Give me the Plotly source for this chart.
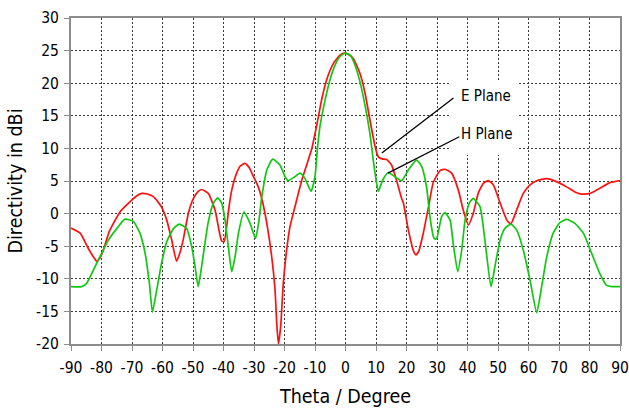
import plotly.graph_objects as go

# E Plane (red)
e_theta = [-90, -87, -84.5, -82.7, -81.6, -80.5, -79.4, -77.5, -76.1, -73.9, -70.7, -68.5, -66.8, -65, -63,
           -61.5, -60.3, -58.6, -57, -55.4, -54.3, -53.2, -51.5, -49.9, -48.5, -47.2, -45, -42.8, -41.5,
           -40.6, -39.8, -39, -38.2, -37.3, -35.7, -34.5, -33, -31.5, -30.2, -28.6, -27.5, -25.8, -24.2,
           -23.1, -22.55, -22.0, -21.25, -20.4, -19.3, -18.2, -16.6, -14.4, -12.7, -11.1, -9.45, -7.8,
           -6.2, -4.0, -1.8, -0.2, 1.0, 2.56, 4.75, 6.4, 8.0, 9.7, 10.75, 12.0, 13.5, 15.1, 16.8, 18.4,
           19.0, 20.6, 22.2, 23.1, 24.0, 25.5, 27.2, 28.8, 31.0, 32.6, 34.8, 37.0, 38.6, 40.3, 41.9, 43.5,
           45.2, 46.8, 48.5, 50.7, 52.9, 54.2, 56.1, 58.3, 60.5, 62.7, 66.0, 69.2, 72.5, 75.8, 77.4, 80.2,
           83.4, 86.7, 90]
e_dbi = [-2.2, -3.0, -5.2, -6.6, -7.3, -6.8, -5.6, -2.8, -1.5, 0.3, 1.8, 2.7, 3.1, 3.0, 2.6,
         1.8, 1.0, -1.0, -4.0, -7.3, -6.0, -4.0, 0.1, 2.3, 3.3, 3.7, 3.1, 0.6, -2.5,
         -4.2, -4.3, -2.1, 1.0, 3.6, 6.2, 7.3, 7.7, 7.0, 5.7, 4.1, 2.4, -1.5, -6.6,
         -11.7, -16.8, -20.0, -17.3, -10.7, -5.6, -2.0, 1.0, 5.0, 7.5, 9.9, 13.5, 17.5,
         20.5, 23.0, 24.3, 24.6, 24.4, 23.8, 21.5, 18.5, 14.4, 10.3, 8.7, 8.4, 8.3, 7.45, 5.0, 2.3,
         1.6, -2.5, -5.6, -6.35, -5.8, -3.0, 1.0, 4.8, 6.6, 6.8, 6.2, 3.6, 0.55, -1.75, 0.05, 3.1,
         4.65, 5.05, 4.4, 1.6, -1.0, -1.6, 0.55, 3.1, 4.4, 5.05, 5.35, 4.9, 4.1, 3.2, 3.0, 3.1,
         3.9, 4.75, 5.05]

# H Plane (green)
h_theta = [-90, -86.5, -84.9, -82.7, -80.5, -77.8, -75, -72.3, -69.6, -67.4, -65.7, -64.3, -63.3, -61.9,
           -60.3, -58.6, -56.4, -54.5, -52.1, -50.4, -49.3, -48.3, -47.2, -46.1, -45, -43.3, -41.9, -40.6,
           -39.5, -38.4, -37.3, -36.2, -35.1, -33.3, -31.3, -29.5, -28.5, -27.5, -25.8, -24.2, -23.7,
           -21.5, -19.8, -18.8, -16.6, -14.9, -13.3, -11.3, -10, -9.25, -8.4, -6.7, -5.1, -3.4, -1.8,
           -0.2, 1.5, 3.1, 4.75, 6.4, 8.0, 9.1, 10.2, 10.75, 12.2, 14.0, 16.2, 18.4, 20.6, 23.3, 25.0,
           26.6, 27.7, 28.8, 29.3, 29.9, 31.5, 32.6, 34.3, 35.3, 36.8, 38.1, 39.2, 40.6, 41.9, 44.1,
           45.7, 47.7, 49.0, 50.7, 52.3, 54.2, 56.1, 58.3, 60.5, 62.7, 64.3, 66.0, 68.1, 70.3, 72.5,
           75.2, 78.0, 80.7, 83.4, 85.6, 87.3, 90]
h_dbi = [-11.2, -11.2, -10.7, -8.7, -6.6, -4.1, -2.3, -0.85, -1.2, -3.0, -6.1, -10.7, -15.1, -11.7,
         -7.6, -4.3, -2.3, -1.6, -2.3, -5.1, -8.2, -11.2, -8.2, -4.6, -1.3, 1.6, 2.4, 1.6,
         -1.0, -5.1, -8.9, -6.6, -3.0, 0.25, -1.5, -3.8, -1.5, 2.4, 6.7, 8.2, 8.35,
         7.45, 5.66, 5.05, 5.66, 6.2, 5.4, 3.4, 5.66, 9.75, 13.3, 17.4, 20.5, 22.8, 24.1,
         24.6, 24.3, 22.8, 20.2, 16.6, 12.3, 8.2, 4.65, 3.4, 5.15, 6.3, 5.66, 5.05, 6.7, 8.2, 7.2,
         4.0, -0.5, -3.5, -3.9, -3.8, -0.5, 0.15, -1.0, -4.55, -8.9, -5.6, -1.0, 1.6, 2.35, 1.06,
         -4.05, -11.2, -8.1, -4.05, -2.26, -1.6, -2.5, -5.6, -10.2, -15.2, -11.2, -6.6, -3.0, -1.4, -0.9,
         -1.5, -3.0, -6.1, -9.2, -11.0, -11.2, -11.2]

x_ticks = list(range(-90, 91, 10))
y_ticks = list(range(-20, 31, 5))

FONT = "DejaVu Sans Condensed, DejaVu Sans, sans-serif"

fig = go.Figure()
fig.add_trace(go.Scatter(x=e_theta, y=e_dbi, mode="lines", name="E Plane",
                         line=dict(color="#ff1010", width=1.7, shape="spline", smoothing=0.5)))
fig.add_trace(go.Scatter(x=h_theta, y=h_dbi, mode="lines", name="H Plane",
                         line=dict(color="#10c810", width=1.7, shape="spline", smoothing=0.5)))

axis_common = dict(showline=True, linecolor="#8c8c8c", linewidth=2, mirror=True,
                   showgrid=True, gridcolor="#3a3a3a", gridwidth=1, griddash="2px,2px",
                   ticks="outside", ticklen=5, tickcolor="#8c8c8c", tickwidth=1,
                   zeroline=False, automargin=False,
                   tickfont=dict(family=FONT, size=15.5, color="black"))

fig.update_xaxes(range=[-90, 90], tickvals=x_ticks, ticktext=[str(v) for v in x_ticks],
                 ticklabelstandoff=3,
                 title=dict(text="Theta / Degree", font=dict(family=FONT, size=19.5, color="black"), standoff=14),
                 **axis_common)
fig.update_yaxes(range=[-20, 30], tickvals=y_ticks, ticktext=[str(v) for v in y_ticks],
                 ticklabelstandoff=2,
                 title=dict(text="Directivity in dBi", font=dict(family=FONT, size=19.5, color="black"), standoff=8),
                 **axis_common)

# white box behind labels (hides grid)
fig.add_shape(type="rect", xref="x", yref="y", x0=34.3, x1=56.2, y0=9.0, y1=20.5,
              fillcolor="white", line=dict(width=0), layer="between")

fig.add_annotation(x=11.9, y=9.3, ax=35.9, ay=17.9, axref="x", ayref="y", text="",
                   showarrow=True, arrowhead=0, arrowwidth=1.3, arrowcolor="black")
fig.add_annotation(x=13.9, y=6.2, ax=37.8, ay=11.9, axref="x", ayref="y", text="",
                   showarrow=True, arrowhead=0, arrowwidth=1.3, arrowcolor="black")
fig.add_annotation(x=37.3, y=18.0, text="E Plane", showarrow=False, xanchor="left", yanchor="middle",
                   font=dict(family=FONT, size=15, color="black"))
fig.add_annotation(x=37.3, y=12.2, text="H Plane", showarrow=False, xanchor="left", yanchor="middle",
                   font=dict(family=FONT, size=15, color="black"))

fig.update_layout(width=629, height=410, margin=dict(l=71, r=9, t=18, b=66),
                  paper_bgcolor="white", plot_bgcolor="white", showlegend=False)

fig.write_html("out.html")
